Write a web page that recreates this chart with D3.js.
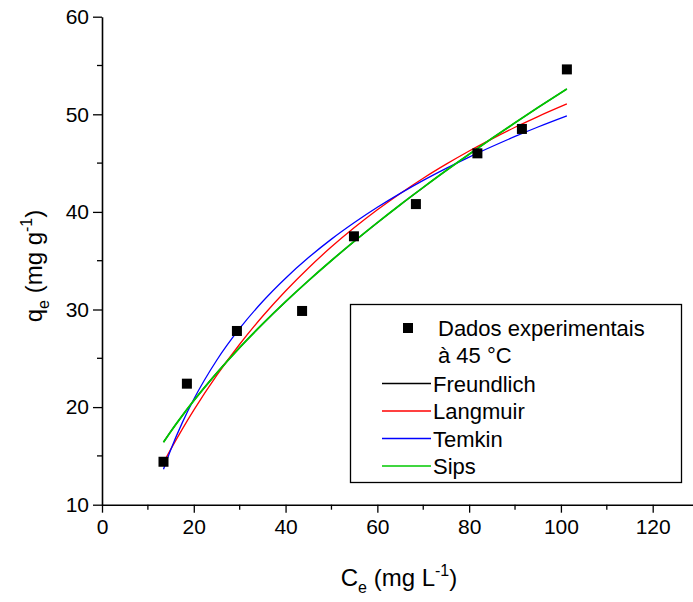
<!DOCTYPE html>
<html>
<head>
<meta charset="utf-8">
<script src="https://cdn.jsdelivr.net/npm/d3@7"></script>
<style>
  html, body { margin: 0; padding: 0; background: #fff; }
  svg { display: block; font-family: Arial, "Liberation Sans", sans-serif; }
</style>
</head>
<body>
<svg id="chart" width="693" height="602"></svg>
<script>
// Experimental data
const expCe = [13.4, 18.5, 29.4, 43.6, 54.9, 68.4, 81.8, 91.5, 101.3];
const expQe = [14.4, 22.4, 27.8, 29.85, 37.5, 40.8, 46.0, 48.5, 54.6];

// Model curves
const curveCe = [13.4, 15, 17.5, 20, 25, 30, 35, 40, 45, 50, 55, 60, 65, 70, 75, 80, 85, 90, 95, 101.3];
const freundlichQe = [16.40, 17.51, 19.13, 20.66, 23.49, 26.10, 28.52, 30.80, 32.96, 35.02, 37.00, 38.90, 40.74, 42.51, 44.24, 45.91, 47.54, 49.13, 50.69, 52.60];
const langmuirQe = [14.30, 15.69, 17.75, 19.69, 23.25, 26.44, 29.31, 31.90, 34.26, 36.42, 38.39, 40.21, 41.89, 43.45, 44.89, 46.24, 47.49, 48.67, 49.77, 51.06];
const temkinQe = [13.64, 15.66, 18.41, 20.80, 24.80, 28.06, 30.82, 33.21, 35.32, 37.21, 38.91, 40.47, 41.90, 43.23, 44.46, 45.62, 46.70, 47.73, 48.70, 49.84];
const sipsQe = [16.40, 17.51, 19.13, 20.66, 23.49, 26.10, 28.52, 30.80, 32.96, 35.02, 37.00, 38.90, 40.74, 42.51, 44.24, 45.91, 47.54, 49.13, 50.69, 52.60];

const seriesNames = ["Freundlich", "Langmuir", "Temkin", "Sips"];
const seriesColors = ["#000000", "#ff0000", "#0000ff", "#00c800"];
const legendExpLines = ["Dados experimentais", "à 45 °C"];

const xTicks = [0, 20, 40, 60, 80, 100, 120];
const yTicks = [10, 20, 30, 40, 50, 60];

const svg = d3.select("#chart");
const x = d3.scaleLinear().domain([0, 130]).range([102, 102 + 130 * (550.7 / 120)]);
const y = d3.scaleLinear().domain([10, 60]).range([504.7, 16.7]);

// Axes
const xAxis = d3.axisBottom(x).tickValues(xTicks).tickSize(8).tickPadding(6).tickSizeOuter(0);
const yAxis = d3.axisLeft(y).tickValues(yTicks).tickSize(9).tickPadding(4).tickSizeOuter(0);

const gx = svg.append("g").attr("transform", `translate(0,${y(10)})`).call(xAxis);
const gy = svg.append("g").attr("transform", `translate(${x(0)},0)`).call(yAxis);

// minor ticks
const xMinor = d3.range(10, 130, 20);
svg.append("g").selectAll("line").data(xMinor).join("line")
  .attr("x1", d => x(d)).attr("x2", d => x(d))
  .attr("y1", y(10)).attr("y2", y(10) + 5)
  .attr("stroke", "#000").attr("stroke-width", 1.3);
const yMinor = d3.range(15, 60, 10);
svg.append("g").selectAll("line").data(yMinor).join("line")
  .attr("x1", x(0)).attr("x2", x(0) - 5)
  .attr("y1", d => y(d)).attr("y2", d => y(d))
  .attr("stroke", "#000").attr("stroke-width", 1.3);

[gx, gy].forEach(g => {
  g.selectAll("path.domain").attr("stroke", "#000").attr("stroke-width", 1.6);
  g.selectAll(".tick line").attr("stroke", "#000").attr("stroke-width", 1.3);
  g.selectAll(".tick text").attr("fill", "#000").style("font-size", "21px")
    .style("font-family", "Arial, 'Liberation Sans', sans-serif");
});

// Axis titles
const xt = svg.append("text").attr("x", 399).attr("y", 586).attr("text-anchor", "middle")
  .style("font-size", "24px").attr("fill", "#000");
xt.append("tspan").text("C");
xt.append("tspan").attr("dy", 7).style("font-size", "16px").text("e");
xt.append("tspan").attr("dy", -7).text(" (mg L");
xt.append("tspan").attr("dy", -10).style("font-size", "16px").text("-1");
xt.append("tspan").attr("dy", 10).text(")");

const yt = svg.append("text").attr("transform", "translate(42,266) rotate(-90)").attr("text-anchor", "middle")
  .style("font-size", "24px").attr("fill", "#000");
yt.append("tspan").text("q");
yt.append("tspan").attr("dy", 7).style("font-size", "16px").text("e");
yt.append("tspan").attr("dy", -7).text(" (mg g");
yt.append("tspan").attr("dy", -10).style("font-size", "16px").text("-1");
yt.append("tspan").attr("dy", 10).text(")");

// Curves
const seriesData = [freundlichQe, langmuirQe, temkinQe, sipsQe];
const line = d3.line().x(d => x(d[0])).y(d => y(d[1])).curve(d3.curveMonotoneX);
seriesData.forEach((vals, i) => {
  svg.append("path")
    .datum(curveCe.map((c, j) => [c, vals[j]]))
    .attr("d", line)
    .attr("fill", "none")
    .attr("stroke", seriesColors[i])
    .attr("stroke-width", i === 3 ? 1.8 : 1.3);
});

// Experimental points
const sq = 10;
svg.append("g").selectAll("rect").data(expCe.map((c, i) => [c, expQe[i]])).join("rect")
  .attr("x", d => x(d[0]) - sq / 2).attr("y", d => y(d[1]) - sq / 2)
  .attr("width", sq).attr("height", sq).attr("fill", "#000");

// Legend
const lg = svg.append("g");
lg.append("rect").attr("x", 350.5).attr("y", 304.5).attr("width", 331).attr("height", 178)
  .attr("fill", "#fff").attr("stroke", "#000").attr("stroke-width", 1.3);
lg.append("rect").attr("x", 408 - sq / 2).attr("y", 328 - sq / 2).attr("width", sq).attr("height", sq).attr("fill", "#000");
legendExpLines.forEach((t, i) => {
  lg.append("text").attr("x", 438).attr("y", 336 + i * 27).style("font-size", "22px").attr("fill", "#000").text(t);
});
seriesNames.forEach((name, i) => {
  const ly = 383.5 + i * 27.5;
  lg.append("line").attr("x1", 382).attr("x2", 431).attr("y1", ly).attr("y2", ly)
    .attr("stroke", seriesColors[i]).attr("stroke-width", 1.3);
  lg.append("text").attr("x", 433).attr("y", ly + 8).style("font-size", "22px").attr("fill", "#000").text(name);
});
</script>
</body>
</html>
